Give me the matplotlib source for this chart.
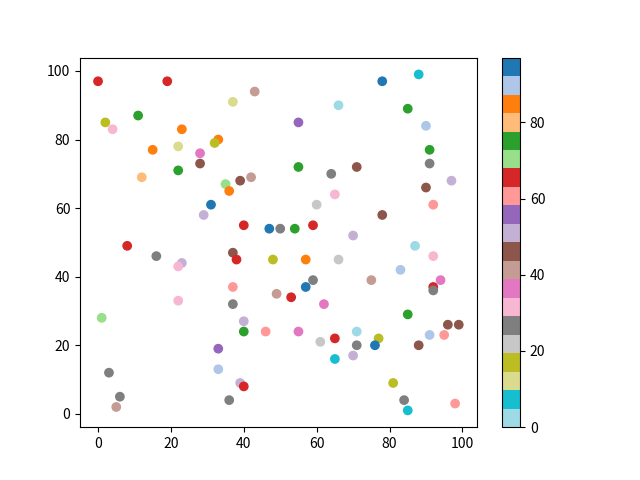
import numpy as np
import matplotlib
matplotlib.use('Agg')
from matplotlib import pyplot as plt

plt.rcParams['font.family'] = ['Noto Sans CJK SC', 'DejaVu Sans']

# values: x, y and colour value per point
x = [0, 19, 78, 88, 43, 37, 66, 85, 11, 2, 4, 55, 23, 90, 33, 32, 15, 22, 91, 28,
     28, 91, 71, 55, 22, 64, 12, 42, 39, 97, 35, 36, 90, 65, 60, 31, 92, 29, 78, 40,
     59, 47, 50, 54, 70, 8, 87, 16, 37, 38, 48, 57, 66, 92, 23, 22, 83, 59, 75, 57,
     94, 92, 92, 37, 49, 53, 22, 37, 62, 85, 1, 40, 96, 99, 91, 95, 40, 46, 55, 71,
     61, 65, 77, 71, 76, 88, 33, 3, 70, 65, 33, 81, 39, 40, 6, 36, 84, 5, 85, 98]
y = [97, 97, 97, 99, 94, 91, 90, 89, 87, 85, 83, 85, 83, 84, 80, 79, 77, 78, 77, 76,
     73, 73, 72, 72, 71, 70, 69, 69, 68, 68, 67, 65, 66, 64, 61, 61, 61, 58, 58, 55,
     55, 54, 54, 54, 52, 49, 49, 46, 47, 45, 45, 45, 45, 46, 44, 43, 42, 39, 39, 37,
     39, 37, 36, 37, 35, 34, 33, 32, 32, 29, 28, 27, 26, 26, 23, 23, 24, 24, 24, 24,
     21, 22, 22, 20, 20, 20, 19, 12, 17, 16, 13, 9, 9, 8, 5, 4, 4, 2, 1, 3]
c = [65, 65, 97, 7, 41, 12, 2, 75, 75, 17, 31, 56, 85, 90, 85, 17, 85, 12, 75, 36,
     46, 27, 46, 75, 75, 27, 80, 41, 46, 51, 70, 85, 46, 31, 22, 95, 61, 51, 46, 65,
     65, 95, 27, 75, 51, 65, 2, 27, 46, 65, 17, 85, 22, 31, 51, 31, 90, 27, 41, 95,
     36, 65, 27, 61, 41, 65, 31, 27, 36, 75, 70, 51, 46, 46, 90, 61, 75, 61, 36, 0,
     22, 65, 17, 27, 95, 46, 56, 27, 51, 7, 90, 17, 51, 65, 27, 27, 27, 41, 7, 61]

plt.scatter(x, y, c=c, cmap='tab20_r')
plt.colorbar()

plt.savefig('out.png')
